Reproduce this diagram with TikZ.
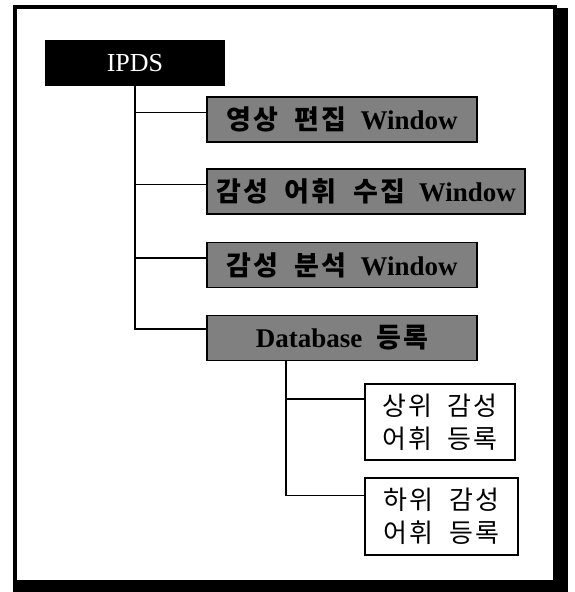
\documentclass[tikz,border=0pt]{standalone}
\usepackage{fontspec}
\setmainfont{Liberation Serif}
\newfontfamily\kr[LetterSpace=8]{Noto Sans CJK KR}
\usetikzlibrary{positioning}
\tikzset{
  root/.style={rectangle, minimum width=180pt, minimum height=46pt, inner sep=0pt, fill=black, text=white, font=\fontsize{26}{30}\selectfont},
  window/.style={rectangle, minimum height=45pt, inner sep=0pt, draw=black, line width=1.8pt, fill=black!50, font=\fontsize{27}{30}\selectfont\bfseries},
  leaf/.style={rectangle, minimum width=150pt, minimum height=76pt, inner sep=0pt, draw=black, line width=1.8pt, fill=white, align=center, font=\kr\fontsize{26}{33}\selectfont},
  branch/.style={line width=1.8pt}
}
\begin{document}
\begin{tikzpicture}[x=1pt, y=-1pt]
        \useasboundingbox (0,0) rectangle (575,592);

        % Marco con sombra
        \draw [line width=4pt] (15,7) rectangle (555,584);
        \fill [black] (553,8) rectangle (568,592);
        \fill [black] (13,580) rectangle (568,592);

        % Raiz y ventanas
        \node (ipds) [root] at (135,63) {IPDS};
        \node (w1) [window, minimum width=270pt] at (342,119.5) {{\kr 영상\ \ 편집}\hspace{7pt} Window};
        \node (w2) [window, minimum width=318pt] at (366,191.5) {{\kr 감성\ \ 어휘\ \ 수집}\hspace{7pt} Window};
        \node (w3) [window, minimum width=270pt] at (342,265) {{\kr 감성\ \ 분석}\hspace{7pt} Window};
        \node (w4) [window, minimum width=270pt] at (342,338) {Database\hspace{7pt} {\kr 등록}};
        \draw [branch] (ipds.south) |- ([yshift=7pt]w1.west);
        \draw [branch] (ipds.south) |- ([yshift=7pt]w2.west);
        \draw [branch] (ipds.south) |- ([yshift=7pt]w3.west);
        \draw [branch] (ipds.south) |- ([yshift=9pt]w4.west);

        % Registro de vocabulario
        \node (up) [leaf] at (440,422) {상위\ \ 감성\\어휘\ \ 등록};
        \node (low) [leaf, minimum width=153pt, minimum height=77pt] at (441.5,516.5) {하위\ \ 감성\\어휘\ \ 등록};
        \draw [branch] ([xshift=-56pt]w4.south) |- ([yshift=23pt]up.west);
        \draw [branch] ([xshift=-56pt]w4.south) |- ([yshift=21pt]low.west);

    \end{tikzpicture}
\end{document}
